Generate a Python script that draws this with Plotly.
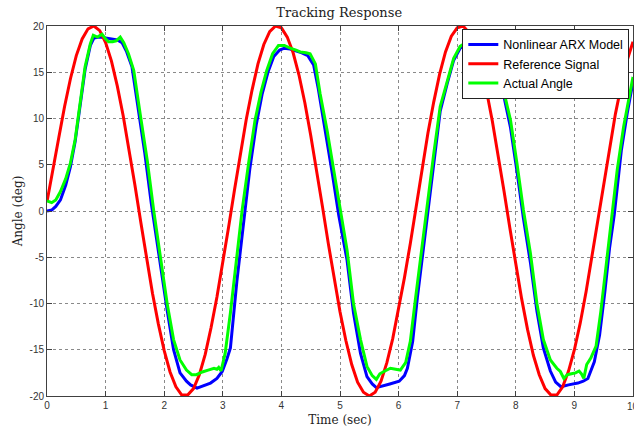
import plotly.graph_objects as go

# ---- data ----
t_ref = [0.0, 0.1, 0.2, 0.3, 0.4, 0.5, 0.6, 0.7, 0.8, 0.9,
         1.0, 1.1, 1.2, 1.3, 1.4, 1.5, 1.6, 1.7, 1.8, 1.9,
         2.0, 2.1, 2.2, 2.3, 2.4, 2.5, 2.6, 2.7, 2.8, 2.9,
         3.0, 3.1, 3.2, 3.3, 3.4, 3.5, 3.6, 3.7, 3.8, 3.9,
         4.0, 4.1, 4.2, 4.3, 4.4, 4.5, 4.6, 4.7, 4.8, 4.9,
         5.0, 5.1, 5.2, 5.3, 5.4, 5.5, 5.6, 5.7, 5.8, 5.9,
         6.0, 6.1, 6.2, 6.3, 6.4, 6.5, 6.6, 6.7, 6.8, 6.9,
         7.0, 7.1, 7.2, 7.3, 7.4, 7.5, 7.6, 7.7, 7.8, 7.9,
         8.0, 8.1, 8.2, 8.3, 8.4, 8.5, 8.6, 8.7, 8.8, 8.9,
         9.0, 9.1, 9.2, 9.3, 9.4, 9.5, 9.6, 9.7, 9.8, 9.9, 10.0]
reference_signal = [1.0, 4.6, 7.9, 11.3, 14.3, 16.8, 18.6, 19.7, 20.0, 19.5,
                    18.2, 16.2, 13.5, 10.3, 6.7, 2.8, -1.2, -5.1, -8.9, -12.2,
                    -15.1, -17.4, -19.0, -19.9, -19.9, -19.2, -17.7, -15.5, -12.6, -9.3,
                    -5.6, -1.7, 2.3, 6.2, 9.9, 13.1, 15.9, 18.0, 19.4, 20.0,
                    19.8, 18.8, 17.1, 14.7, 11.7, 8.2, 4.5, 0.5, -3.5, -7.3,
                    -10.9, -14.0, -16.6, -18.5, -19.6, -20.0, -19.6, -18.4, -16.4, -13.8,
                    -10.7, -7.2, -3.5, 0.5, 4.5, 8.4, 11.8, 14.8, 17.2, 18.9,
                    19.8, 20.0, 19.3, 17.9, 15.7, 13.0, 9.7, 6.1, 2.1, -1.9,
                    -5.8, -9.5, -12.8, -15.6, -17.7, -19.2, -19.9, -19.9, -19.0, -17.3,
                    -15.0, -12.1, -8.7, -4.9, -1.0, 3.0, 6.9, 10.5, 13.6, 16.3, 18.3]

t_model = [0.0, 0.08, 0.15, 0.23, 0.32, 0.40, 0.48, 0.57, 0.65, 0.74,
           0.80, 0.90, 1.00, 1.10, 1.20, 1.28, 1.36, 1.45, 1.55, 1.67,
           1.78, 1.90, 2.05, 2.16, 2.27, 2.38, 2.45, 2.56, 2.68, 2.79,
           2.90, 2.99, 3.07, 3.13, 3.24, 3.36, 3.46, 3.57, 3.67, 3.77,
           3.87, 3.97, 4.05, 4.15, 4.25, 4.35, 4.45, 4.55, 4.63, 4.75,
           4.87, 4.98, 5.12, 5.23, 5.35, 5.46, 5.55, 5.62, 5.75, 5.85,
           6.01, 6.10, 6.15, 6.24, 6.32, 6.41, 6.49, 6.60, 6.71, 6.83,
           6.94, 7.05, 7.15, 7.30, 7.45, 7.60, 7.70, 7.79, 7.91, 8.02,
           8.13, 8.25, 8.36, 8.47, 8.59, 8.68, 8.77, 8.90, 9.06, 9.15,
           9.23, 9.34, 9.43, 9.52, 9.60, 9.68, 9.80, 9.90, 10.0]
narx_model = [0.0, 0.1, 0.5, 1.2, 2.8, 4.8, 7.5, 11.5, 15.3, 17.9,
              18.7, 18.8, 18.7, 18.6, 18.5, 18.2, 17.2, 15.6, 11.5, 6.2,
              0.8, -4.5, -10.7, -15.0, -17.5, -18.4, -18.8, -19.15, -18.9, -18.6,
              -18.1, -17.35, -16.0, -14.8, -7.6, -1.15, 4.5, 9.3, 12.6, 15.0,
              16.7, 17.4, 17.6, 17.5, 17.3, 17.1, 16.8, 15.8, 13.2, 8.8,
              4.0, -0.5, -5.3, -11.0, -15.4, -17.9, -18.7, -19.1, -18.9, -18.7,
              -18.4, -17.8, -17.0, -14.1, -9.4, -4.75, -0.4, 5.5, 10.8, 13.8,
              16.3, 17.6, 18.0, 17.8, 17.4, 16.3, 14.6, 12.6, 9.0, 4.3,
              -0.8, -5.6, -10.8, -14.8, -17.3, -18.5, -19.0, -18.8, -18.6, -18.4,
              -18.1, -16.3, -13.4, -8.7, -4.0, -0.4, 6.5, 10.5, 14.0]

t_actual = [0.0, 0.08, 0.15, 0.23, 0.32, 0.40, 0.48, 0.57, 0.65, 0.74,
            0.79, 0.86, 0.94, 1.00, 1.05, 1.12, 1.18, 1.25, 1.31, 1.39,
            1.48, 1.59, 1.71, 1.82, 1.93, 2.05, 2.16, 2.27, 2.38, 2.47,
            2.55, 2.65, 2.75, 2.85, 2.90, 2.93, 2.97, 3.04, 3.13, 3.24,
            3.33, 3.44, 3.55, 3.65, 3.75, 3.85, 3.95, 4.05, 4.15, 4.25,
            4.32, 4.42, 4.49, 4.58, 4.66, 4.78, 4.89, 5.00, 5.12, 5.23,
            5.35, 5.46, 5.55, 5.62, 5.68, 5.75, 5.86, 5.95, 6.03, 6.12,
            6.20, 6.29, 6.38, 6.46, 6.55, 6.60, 6.71, 6.83, 6.94, 7.05,
            7.15, 7.30, 7.45, 7.60, 7.70, 7.79, 7.91, 8.02, 8.13, 8.25,
            8.36, 8.47, 8.59, 8.70, 8.76, 8.82, 8.88, 8.95, 9.02, 9.08,
            9.12, 9.16, 9.21, 9.28, 9.37, 9.45, 9.50, 9.61, 9.73, 9.84, 10.0]
actual_angle = [1.1, 0.9, 1.2, 2.1, 3.5, 5.2, 7.7, 11.7, 15.6, 18.1,
                19.0, 18.8, 19.1, 18.6, 18.3, 18.3, 18.4, 18.8, 18.2, 17.0,
                15.2, 10.5, 5.5, 0.1, -4.6, -10.0, -13.9, -16.1, -17.2, -17.7,
                -17.7, -17.4, -17.2, -17.0, -17.1, -16.9, -17.3, -15.4, -11.0, -4.7,
                0.1, 5.15, 9.8, 12.8, 15.2, 17.0, 17.9, 17.9, 17.6, 17.4,
                17.2, 17.1, 17.0, 15.9, 12.7, 8.7, 4.4, 0.1, -4.2, -10.0,
                -13.9, -16.8, -17.8, -18.2, -17.6, -17.35, -17.0, -17.1, -17.2, -16.4,
                -14.1, -9.4, -4.75, -0.4, 3.8, 6.2, 11.3, 14.1, 16.5, 17.8,
                18.2, 18.0, 17.6, 16.5, 15.0, 13.1, 9.8, 5.15, 0.1, -4.6,
                -10.0, -13.9, -16.1, -17.0, -17.35, -18.1, -17.7, -17.6, -17.5, -17.3,
                -17.6, -18.1, -16.6, -15.9, -14.6, -10.9, -8.2, -1.7, 4.4, 9.1, 14.5]

x_ticks = [0, 1, 2, 3, 4, 5, 6, 7, 8, 9, 10]
y_ticks = [-20, -15, -10, -5, 0, 5, 10, 15, 20]
y_tick_labels = ["-20", "-15", "-10", "-5", "0", "5", "10", "15", "20"]

tick_font = dict(family="Liberation Sans, Arial", size=10, color="#333333")

fig = go.Figure()
fig.add_trace(go.Scatter(x=t_model, y=narx_model, mode="lines",
                         name="Nonlinear ARX Model",
                         line=dict(color="#0000FF", width=3)))
fig.add_trace(go.Scatter(x=t_ref, y=reference_signal, mode="lines",
                         name="Reference Signal",
                         line=dict(color="#FF0000", width=3)))
fig.add_trace(go.Scatter(x=t_actual, y=actual_angle, mode="lines",
                         name="Actual Angle",
                         line=dict(color="#00FF00", width=3)))

axis_common = dict(showline=True, linecolor="#404040", linewidth=1,
                   mirror="ticks", ticks="inside", ticklen=5, tickcolor="#404040",
                   showgrid=True, gridcolor="#8a8a8a", griddash="dot", gridwidth=1,
                   zeroline=False, tickfont=tick_font)

fig.update_layout(
    width=634, height=431,
    margin=dict(l=47, r=1, t=26, b=35),
    paper_bgcolor="white", plot_bgcolor="white",
    title=dict(text="Tracking Response", x=0.535, xanchor="center", y=0.97, yanchor="middle",
               font=dict(family="DejaVu Serif", size=13, color="#222222")),
    xaxis=dict(range=[0, 10], tickvals=x_ticks,
               title=dict(text="Time (sec)", standoff=5,
                          font=dict(family="DejaVu Serif", size=12, color="#222222")),
               **axis_common),
    yaxis=dict(range=[-20, 20], tickvals=y_ticks, ticktext=y_tick_labels,
               title=dict(text="Angle (deg)", standoff=4,
                          font=dict(family="DejaVu Serif", size=12, color="#222222")),
               **axis_common),
    legend=dict(x=0.9937, y=0.992, xanchor="right", yanchor="top",
                bgcolor="white", bordercolor="#222222", borderwidth=1,
                font=dict(family="Liberation Sans, Arial", size=12.5, color="#000000"),
                tracegroupgap=0, itemwidth=30),
    showlegend=True,
)

# the last x tick label runs off the page edge, as in the original
fig.add_annotation(text=str(x_ticks[-1]), x=x_ticks[-1], xref="x", y=0, yref="paper",
                   yanchor="top", xanchor="center", yshift=-3, showarrow=False,
                   font=tick_font)

fig.write_html("out.html")
